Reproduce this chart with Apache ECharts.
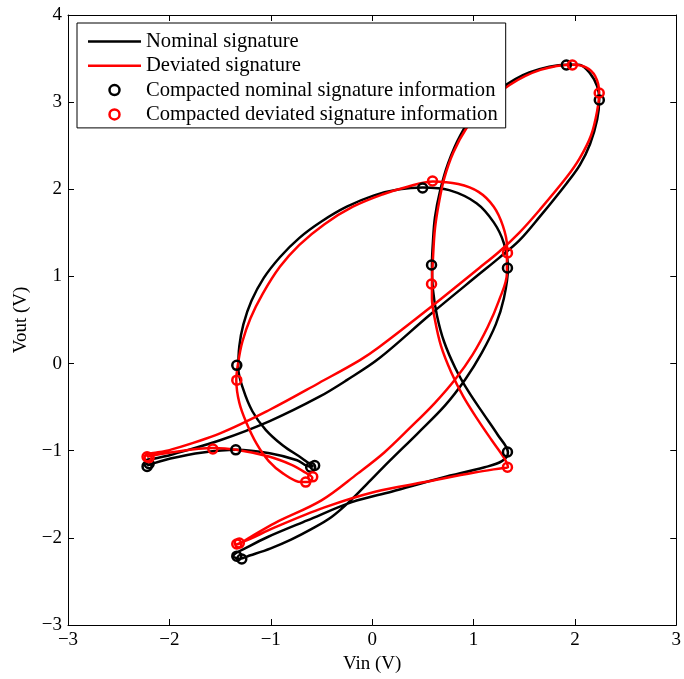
<!DOCTYPE html>
<html>
<head>
<meta charset="utf-8">
<script src="https://cdn.jsdelivr.net/npm/echarts@6/dist/echarts.min.js"></script>
<style>
html,body{margin:0;padding:0;background:#fff;}
#chart{width:684px;height:679px;}
</style>
</head>
<body>
<div id="chart"></div>
<script>
const xTicks = [-3, -2, -1, 0, 1, 2, 3];
const yTicks = [-3, -2, -1, 0, 1, 2, 3, 4];
const seriesNames = ['Nominal signature', 'Deviated signature', 'Compacted nominal signature information', 'Compacted deviated signature information'];

const nominalCurve = [
[-2.22,-1.17],[-1.99,-1.09],[-1.67,-1.02],[-1.34,-0.99],[-1.01,-1.03],[-0.74,-1.11],[-0.62,-1.18],[-0.58,-1.18],
[-0.70,-1.08],[-0.88,-0.94],[-1.05,-0.76],[-1.18,-0.55],[-1.27,-0.30],[-1.32,-0.05],[-1.31,0.20],[-1.27,0.45],[-1.19,0.72],[-1.07,0.98],[-0.91,1.22],[-0.72,1.44],[-0.50,1.63],[-0.25,1.80],[0.02,1.93],[0.27,2.00],[0.50,2.02],[0.76,1.99],[1.03,1.84],[1.20,1.62],[1.30,1.38],[1.34,1.10],
[1.30,0.75],[1.22,0.45],[1.08,0.12],[0.92,-0.18],[0.72,-0.48],[0.45,-0.80],[0.17,-1.12],[-0.05,-1.38],[-0.22,-1.58],[-0.40,-1.76],[-0.60,-1.90],[-0.80,-2.02],[-1.00,-2.12],[-1.20,-2.20],[-1.31,-2.24],[-1.37,-2.21],
[-1.20,-2.09],[-1.03,-1.99],[-0.64,-1.80],[-0.20,-1.59],[0.19,-1.47],[0.69,-1.31],[1.11,-1.19],[1.28,-1.12],[1.34,-1.02],
[1.24,-0.82],[1.10,-0.58],[0.95,-0.32],[0.82,-0.05],[0.71,0.25],[0.64,0.55],[0.60,0.85],[0.59,1.13],[0.60,1.40],[0.62,1.68],[0.67,1.98],[0.75,2.30],[0.87,2.62],[1.03,2.90],[1.25,3.14],[1.55,3.34],[1.92,3.43],[2.04,3.43],[2.15,3.33],[2.22,3.18],[2.24,3.03],[2.22,2.80],[2.15,2.52],[2.05,2.28],[1.92,2.07],[1.65,1.68],[1.45,1.41],[1.25,1.21],[1.06,1.03],[0.57,0.56],[0.07,0.06],[-0.25,-0.19],[-0.52,-0.38],[-1.01,-0.66],[-1.50,-0.88],[-1.99,-1.05],[-2.22,-1.13],[-2.22,-1.17]
];

const deviatedCurve = [
[-2.22,-1.07],[-1.99,-1.02],[-1.57,-0.97],[-1.34,-0.99],[-1.01,-1.07],[-0.80,-1.16],[-0.66,-1.25],[-0.59,-1.31],[-0.62,-1.36],[-0.70,-1.36],[-0.88,-1.26],[-1.02,-1.12],[-1.14,-0.92],[-1.24,-0.68],[-1.31,-0.45],[-1.34,-0.19],[-1.32,0.02],[-1.28,0.25],[-1.20,0.52],[-1.08,0.80],[-0.91,1.11],[-0.72,1.36],[-0.47,1.60],[-0.19,1.80],[0.10,1.94],[0.35,2.03],[0.60,2.09],[0.85,2.06],[1.05,1.97],[1.20,1.80],[1.29,1.58],[1.33,1.35],[1.33,1.04],
[1.25,0.72],[1.14,0.42],[0.99,0.10],[0.82,-0.18],[0.62,-0.45],[0.38,-0.73],[0.12,-1.02],[-0.14,-1.26],[-0.50,-1.57],[-0.96,-1.83],[-1.20,-1.99],[-1.30,-2.06],[-1.35,-2.08],
[-1.22,-2.02],[-0.96,-1.88],[-0.47,-1.65],[0.03,-1.47],[0.52,-1.36],[1.01,-1.25],[1.28,-1.20],[1.34,-1.19],
[1.30,-1.08],[1.18,-0.88],[1.04,-0.64],[0.90,-0.38],[0.78,-0.10],[0.68,0.20],[0.62,0.50],[0.59,0.75],[0.59,0.91],[0.60,1.20],[0.62,1.55],[0.66,1.85],[0.71,2.12],[0.80,2.42],[0.93,2.70],[1.11,2.96],[1.36,3.20],[1.66,3.37],[1.98,3.43],[2.11,3.40],[2.20,3.30],[2.24,3.11],[2.22,2.90],[2.16,2.62],[2.05,2.36],[1.92,2.14],[1.65,1.76],[1.45,1.50],[1.25,1.28],[1.06,1.10],[0.57,0.64],[0.07,0.19],[-0.12,0.04],[-0.52,-0.22],[-1.01,-0.53],[-1.50,-0.80],[-1.99,-0.99],[-2.22,-1.05],[-2.22,-1.07]
];

const nominalMarkers = [
[-2.22,-1.18],[-2.20,-1.15],[-1.335,-0.02],[-1.345,-0.99],[-0.606,-1.19],[-0.567,-1.17],[0.498,2.015],[0.586,1.131],[1.335,1.097],[1.335,-1.015],[1.916,3.426],[2.241,3.025],[-1.335,-2.21],[-1.286,-2.243]
];
const deviatedMarkers = [
[-2.22,-1.07],[-2.20,-1.08],[-1.571,-0.98],[-1.335,-0.19],[-0.655,-1.36],[-0.586,-1.30],[0.596,2.095],[0.586,0.913],[1.335,1.27],[1.335,-1.19],[1.975,3.426],[2.24,3.105],[-1.335,-2.07],[-1.31,-2.06]
];

const FONT = '"Liberation Serif", "DejaVu Serif", serif';
const fmt = v => String(v).replace('-', '\u2212');
const LINE_ICON = 'path://M0,0H53V2.5H0Z';

const chart = echarts.init(document.getElementById('chart'), null, {renderer: 'canvas'});
const baseAxis = {
  type: 'value',
  axisLine: {show: true, onZero: false, lineStyle: {color: '#000', width: 1}},
  axisTick: {show: true, inside: true, length: 6, lineStyle: {color: '#000', width: 1}},
  splitLine: {show: false}
};
chart.setOption({
  animation: false,
  backgroundColor: '#fff',
  grid: {left: 68, right: 7, top: 15, bottom: 54, containLabel: false},
  legend: {
    orient: 'vertical',
    left: 77, top: 23,
    data: [
      {name: seriesNames[0], icon: LINE_ICON, itemStyle: {color: '#000', opacity: 1}},
      {name: seriesNames[1], icon: LINE_ICON, itemStyle: {color: '#ff0000', opacity: 1}},
      {name: seriesNames[2], icon: 'circle', itemStyle: {color: 'rgba(0,0,0,0)', borderColor: '#000', borderWidth: 2.5, opacity: 1}},
      {name: seriesNames[3], icon: 'circle', itemStyle: {color: 'rgba(0,0,0,0)', borderColor: '#ff0000', borderWidth: 2.5, opacity: 1}}
    ],
    backgroundColor: '#fff',
    borderColor: '#000', borderWidth: 1,
    padding: [8, 8, 3, 11],
    itemWidth: 53, itemHeight: 10, itemGap: 3.3,
    textStyle: {fontFamily: FONT, fontSize: 20.6, color: '#000', lineHeight: 20},
    selectedMode: false
  },
  xAxis: [
    Object.assign({}, baseAxis, {min: -3, max: 3, interval: 1, position: 'bottom',
      axisLabel: {show: true, color: '#000', fontFamily: FONT, fontSize: 19, margin: 6, formatter: fmt},
      name: 'Vin (V)', nameLocation: 'middle', nameGap: 27,
      nameTextStyle: {fontFamily: FONT, fontSize: 19, color: '#000'}}),
    Object.assign({}, baseAxis, {min: -3, max: 3, interval: 1, position: 'top', axisLabel: {show: false}})
  ],
  yAxis: [
    Object.assign({}, baseAxis, {min: -3, max: 4, interval: 1, position: 'left',
      axisLabel: {show: true, color: '#000', fontFamily: FONT, fontSize: 19, margin: 6, formatter: fmt},
      name: 'Vout (V)', nameLocation: 'middle', nameGap: 32, nameRotate: 90,
      nameTextStyle: {fontFamily: FONT, fontSize: 19, color: '#000'}}),
    Object.assign({}, baseAxis, {min: -3, max: 4, interval: 1, position: 'right', axisLabel: {show: false}})
  ],
  series: [
    {name: seriesNames[0], type: 'line', data: nominalCurve, smooth: 0.35, symbol: 'none',
      color: '#000', lineStyle: {color: '#000', width: 2.5}, z: 2},
    {name: seriesNames[1], type: 'line', data: deviatedCurve, smooth: 0.35, symbol: 'none',
      color: '#ff0000', lineStyle: {color: '#ff0000', width: 2.5}, z: 3},
    {name: seriesNames[2], type: 'scatter', data: nominalMarkers, symbol: 'circle', symbolSize: 9,
      itemStyle: {color: 'rgba(0,0,0,0)', borderColor: '#000', borderWidth: 2.5, opacity: 1}, z: 4},
    {name: seriesNames[3], type: 'scatter', data: deviatedMarkers, symbol: 'circle', symbolSize: 9,
      itemStyle: {color: 'rgba(0,0,0,0)', borderColor: '#ff0000', borderWidth: 2.5, opacity: 1}, z: 5}
  ]
});
</script>
</body>
</html>
